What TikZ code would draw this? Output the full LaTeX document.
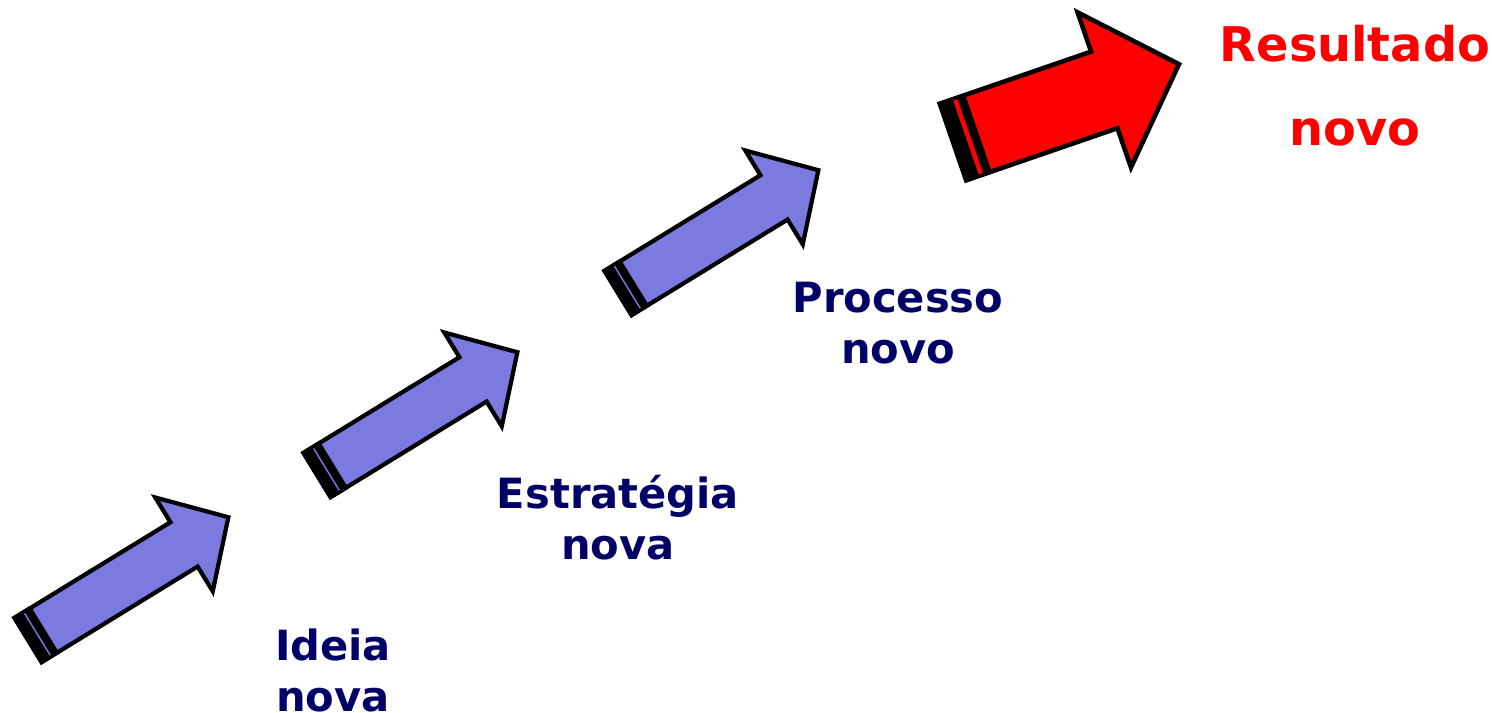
\documentclass[tikz,border=0pt]{standalone}
\usepackage{fontspec}
\setmainfont{DejaVu Sans}
\usepackage{tikz}
\usetikzlibrary{positioning}

\definecolor{stepblue}{RGB}{122,122,224}
\definecolor{labelnavy}{RGB}{0,0,102}
\definecolor{goalred}{RGB}{255,0,0}

% striped block arrow: fill, shaft half width, head half width, head base, tip, tail end, stripe centre, stripe half width, line width
\tikzset{
  pics/stripearrow/.style n args={9}{code={
    \draw[fill=#1, line width=#9, line join=miter]
      (0,-#2) -- (#4,-#2) -- (#4,-#3) -- (#5,0) -- (#4,#3) -- (#4,#2) -- (0,#2) -- cycle;
    \fill[black] (-2,-#2-2) rectangle (#6,#2+2);
    \fill[#1] (#7-#8,-#2+1.5) rectangle (#7+#8,#2-1.5);
  }}
}

\begin{document}
\begin{tikzpicture}[
    x=0.02cm, y=-0.02cm,
    steplabel/.style={text=labelnavy, font=\fontsize{23.7}{28.9}\selectfont\bfseries, align=center, inner sep=0pt, anchor=base},
    goallabel/.style={text=goalred, font=\fontsize{27.2}{48.2}\selectfont\bfseries, align=center, inner sep=0pt, anchor=base}
]
\useasboundingbox (0,0) rectangle (1492,713);

% Steps
\pic[rotate=31.5] at (28,640) {stripearrow={stepblue}{26}{55}{183}{235}{20}{11}{0.7}{2.4pt}};
\pic[rotate=31.5] at (317,475) {stripearrow={stepblue}{26}{55}{183}{235}{20}{11}{0.7}{2.4pt}};
\pic[rotate=31.5] at (618,293) {stripearrow={stepblue}{26}{55}{183}{235}{20}{11}{0.7}{2.4pt}};

% Result
\pic[rotate=19] at (953,142) {stripearrow={goalred}{40.5}{82}{160}{239}{27}{16}{2.3}{2.6pt}};

% Labels (anchored at the baseline of the last line)
\node[steplabel] (idea) at (333,711) {Ideia\\nova};
\node[steplabel] (strategy) at (618,559) {Estratégia\\nova};
\node[steplabel] (process) at (898,363) {Processo\\novo};
\node[goallabel] (result) at (1355,146) {Resultado\\novo};

\end{tikzpicture}
\end{document}
